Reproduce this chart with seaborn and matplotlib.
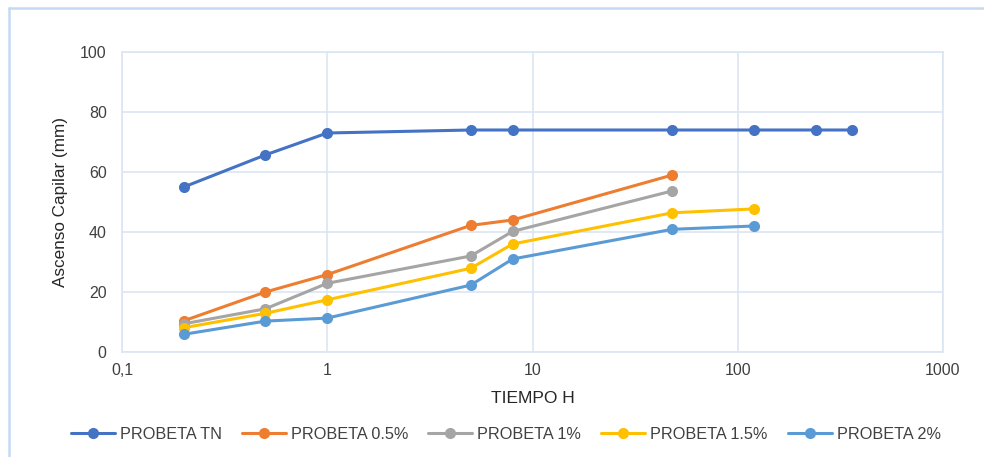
import matplotlib
matplotlib.use("Agg")
import matplotlib.pyplot as plt
from matplotlib.lines import Line2D
from matplotlib.ticker import FuncFormatter, FixedLocator, NullLocator
import seaborn as sns
import pandas as pd

sns.set_theme(style="white")
plt.rcParams["font.family"] = ["Liberation Sans", "DejaVu Sans"]

# Tiempo (h) y ascenso capilar (mm) por probeta
t_tn = [0.2, 0.5, 1, 5, 8, 48, 120, 240, 360]
h_tn = [55, 65.7, 73, 74, 74, 74, 74, 74, 74]

t_05 = [0.2, 0.5, 1, 5, 8, 48]
h_05 = [10.4, 20, 25.8, 42.2, 44, 59]

t_1 = [0.2, 0.5, 1, 5, 8, 48]
h_1 = [9.4, 14.4, 22.9, 32, 40.2, 53.7]

t_15 = [0.2, 0.5, 1, 5, 8, 48, 120]
h_15 = [8.1, 12.9, 17.4, 27.9, 36, 46.4, 47.7]

t_2 = [0.2, 0.5, 1, 5, 8, 48, 120]
h_2 = [5.9, 10.3, 11.3, 22.3, 31, 40.9, 42]

series_names = ["PROBETA TN", "PROBETA 0.5%", "PROBETA 1%", "PROBETA 1.5%", "PROBETA 2%"]
series_colors = ["#4472C4", "#ED7D31", "#A5A5A5", "#FFC000", "#5B9BD5"]
series_t = [t_tn, t_05, t_1, t_15, t_2]
series_h = [h_tn, h_05, h_1, h_15, h_2]

frames = [pd.DataFrame({"tiempo": t, "ascenso": h, "serie": n})
          for t, h, n in zip(series_t, series_h, series_names)]
df = pd.concat(frames, ignore_index=True)

fig = plt.figure(figsize=(9.84, 4.57), dpi=100)
ax = fig.add_axes([122 / 984, 105 / 457, 821 / 984, 300 / 457])

sns.lineplot(data=df, x="tiempo", y="ascenso", hue="serie", hue_order=series_names,
             palette=series_colors, marker="o", markersize=8, markeredgewidth=0,
             linewidth=2.2, ax=ax, legend=True, sort=False, estimator=None)

ax.set_xscale("log")
ax.set_xlim(0.1, 1000)
ax.set_ylim(0, 100)
ax.xaxis.set_major_locator(FixedLocator([0.1, 1, 10, 100, 1000]))
ax.xaxis.set_minor_locator(NullLocator())
ax.xaxis.set_major_formatter(FuncFormatter(lambda v, p: ("%g" % v).replace(".", ",")))
ax.set_yticks(range(0, 101, 20))

grid_c = "#DCE6F2"
ax.grid(True, which="major", color=grid_c, linewidth=1.2)
ax.set_axisbelow(True)
for s in ax.spines.values():
    s.set_color(grid_c)
    s.set_linewidth(1.2)

ax.tick_params(axis="both", length=0, labelsize=11.5, colors="#404040")
ax.tick_params(axis="y", pad=11)
ax.tick_params(axis="x", pad=8)
ax.set_xlabel("TIEMPO H", fontsize=12.5, color="#262626", labelpad=9)
ax.set_ylabel("Ascenso Capilar (mm)", fontsize=12.3, color="#262626", labelpad=9)

handles, labels = ax.get_legend_handles_labels()
ax.legend_.remove()
fig.legend(handles, labels, loc="center", bbox_to_anchor=(0.514, 0.05), ncol=5,
           frameon=False, fontsize=11.7, handlelength=2.7, handletextpad=0.3,
           columnspacing=1.25, labelcolor="#404040")

# marco exterior del gráfico
frame_c = "#C5D9F1"
fig.add_artist(Line2D([9 / 984, 9 / 984], [0, 1 - 8 / 457], color=frame_c, lw=1.8,
                      transform=fig.transFigure))
fig.add_artist(Line2D([9 / 984, 1], [1 - 8 / 457, 1 - 8 / 457], color=frame_c, lw=1.8,
                      transform=fig.transFigure))

fig.savefig("out.png", dpi=100)
